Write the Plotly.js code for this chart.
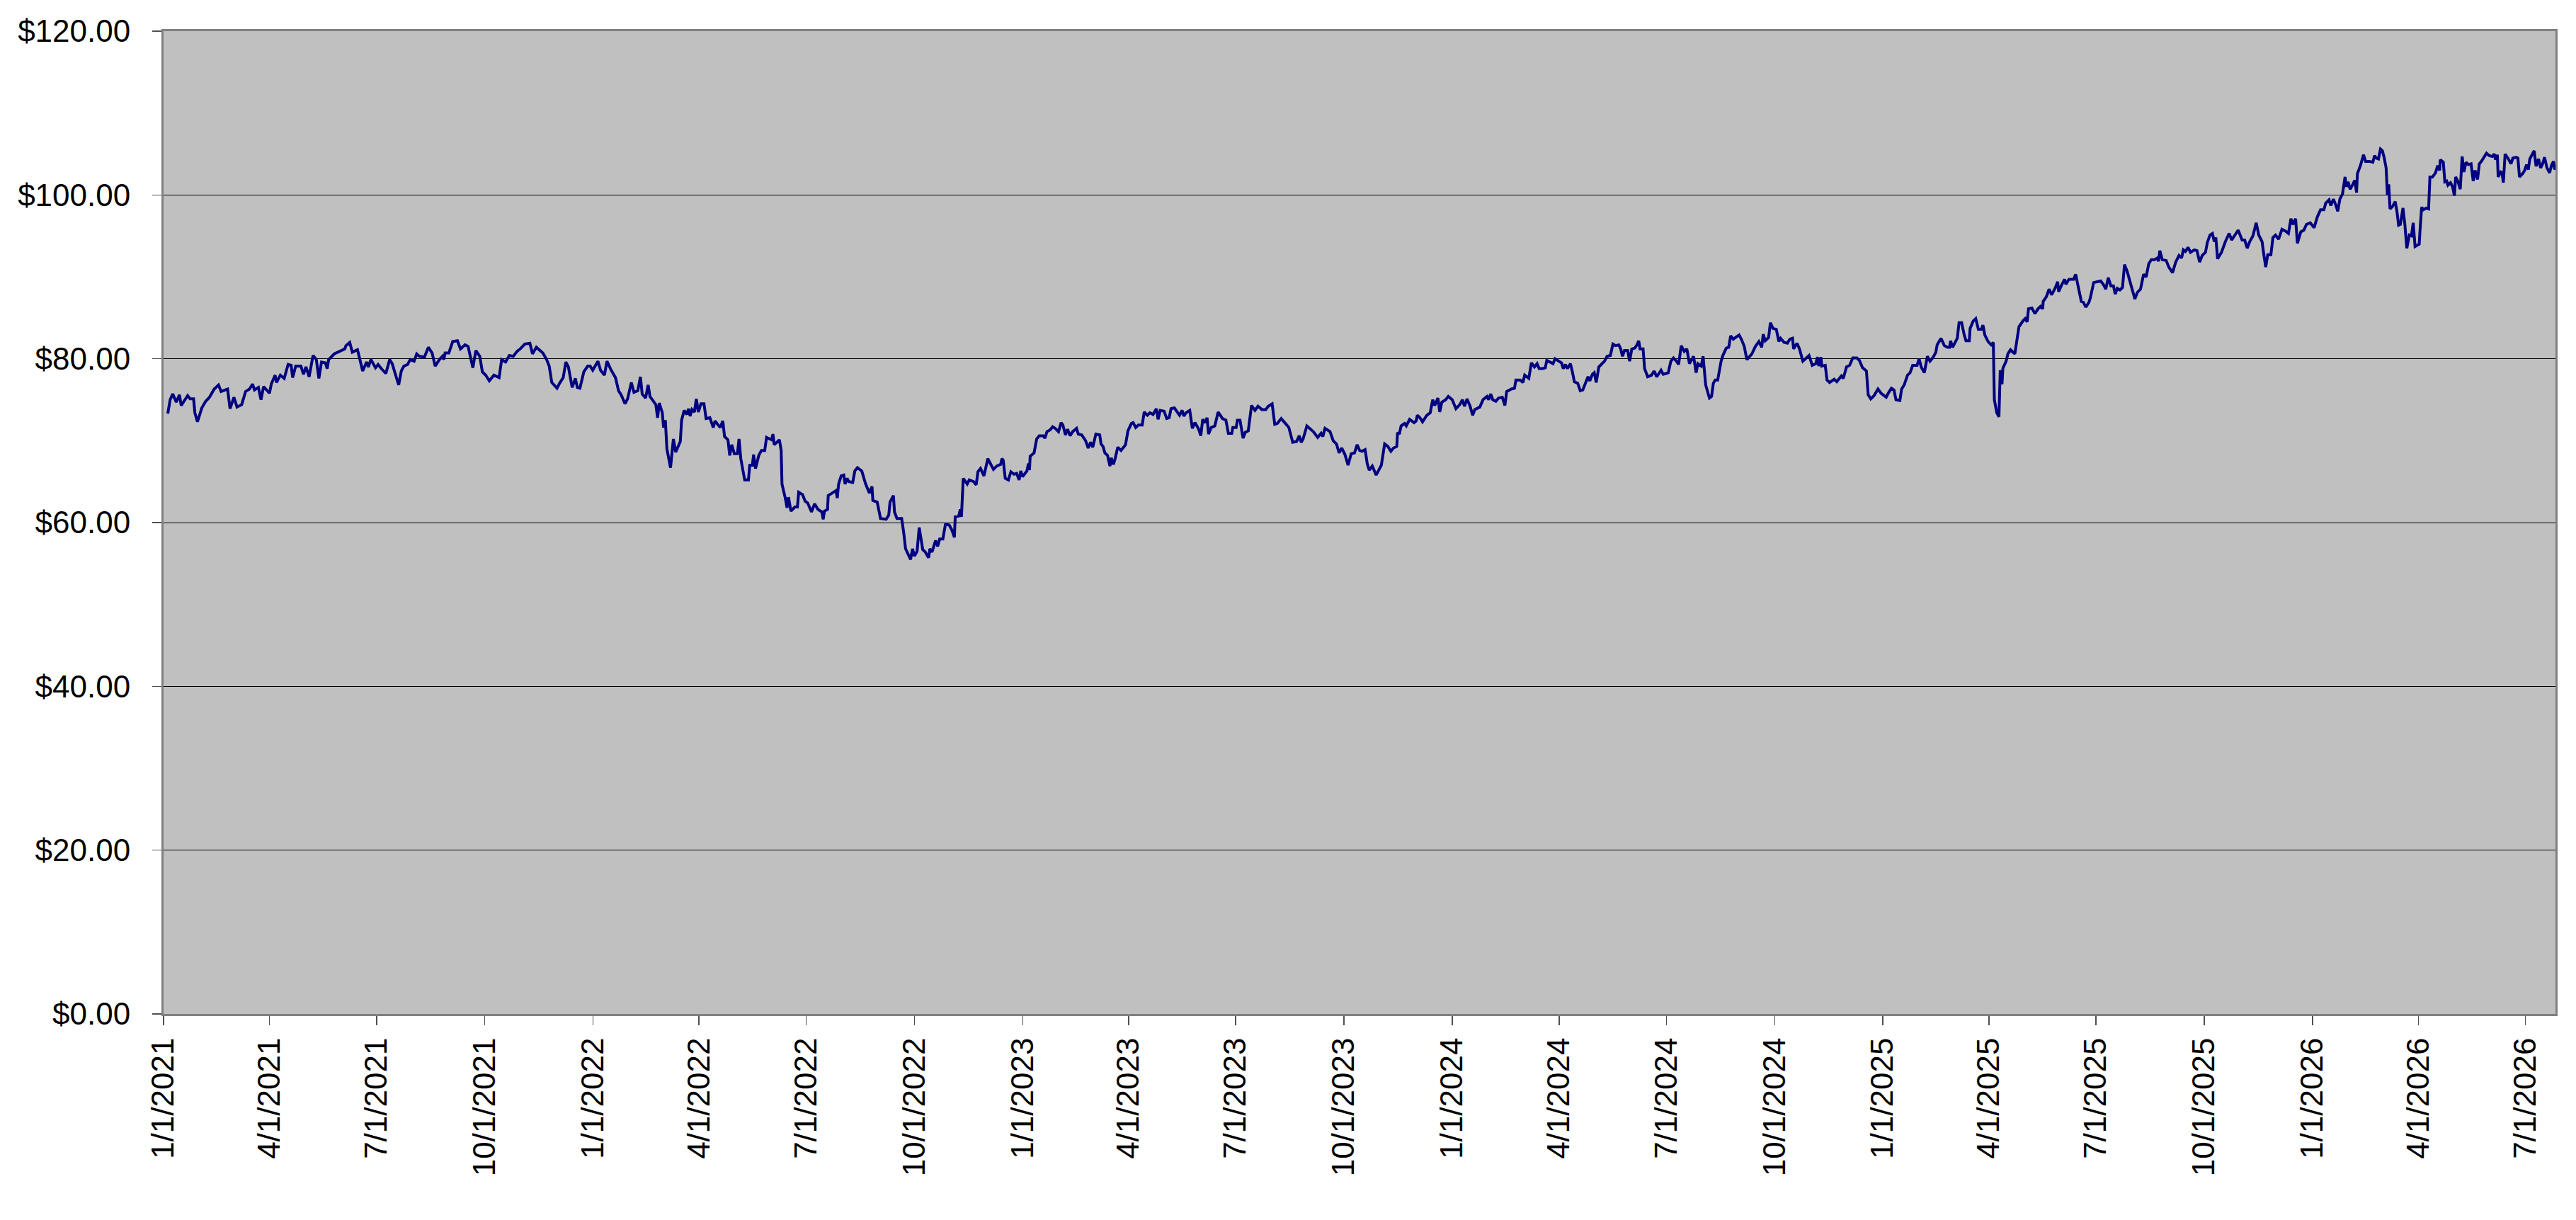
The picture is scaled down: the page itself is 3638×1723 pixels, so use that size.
<!DOCTYPE html>
<html>
<head>
<meta charset="utf-8">
<script src="https://cdn.plot.ly/plotly-3.0.1.min.js"></script>
<style>
  html, body { margin: 0; padding: 0; background: #fff; }
  #chart { width: 3638px; height: 1723px; }
</style>
</head>
<body>
<div id="chart"></div>
<script>
// days counted from 1/1/2021
const startDate = Date.UTC(2021, 0, 1);
const lastDay = 2032.5;

const dayOffsets = [
  3.6, 5.6, 7.8, 10.8, 13.5, 15, 20.5, 22.6, 25.5, 26.6, 28.8, 32.5, 35.8, 39, 43, 46.7, 48.9, 54.4, 56.5, 59.8,
  62.4, 66.4, 69.7, 73, 75.6, 77.3, 80.6, 82.8, 85, 90, 91.5, 94.8, 95.9, 99.2, 102.5, 105.8, 108.4, 109.7, 112.3, 116.7,
  118.9, 121, 123.7, 127, 129.8, 132, 134.2, 137.5, 139, 140.3, 145.1, 149.5, 154, 155, 158.2, 160.4, 164.8, 169.2, 172.5, 174,
  176.2, 180.1, 182.3, 185, 188.9, 192.1, 194.3, 197.2, 199.8, 202, 204.2, 207.4, 209.6, 212.9, 215.1, 217.3, 221.7, 225, 228.2, 230.8,
  234.4, 237, 238.1, 239.2, 242.4, 245.7, 249.7, 252.3, 256.2, 258.8, 262.8, 265.4, 268.7, 270.9, 273.7, 276.8, 280.7, 285.1, 287.3, 290.6,
  293.8, 297.1, 300.4, 303, 307, 311.3, 313.5, 316.8, 322.3, 325.5, 327.7, 329.9, 334.3, 336.5,
  339.6, 341.8, 344, 347.2, 349.9, 351.6, 353.8, 357.1, 360.4, 362.5, 364.7, 369.1, 371.3, 374.6, 376.8, 380, 384, 386.6, 388.8, 392.1,
  394.3, 397.5, 399.7, 403, 405.2, 406.7, 409.6, 411.8, 413.3, 418.3, 419.8, 421.2, 423.8, 424.9, 426.4, 427.7, 430.8, 433.2, 435.2, 439.1,
  440.2, 442.4, 444.6, 446.1, 447.4, 449, 451.1, 452.7, 454.4, 456.6, 459.2, 461, 464.2, 467.1, 468.6, 473, 475.2, 476.7, 479.6, 481.1,
  482.8, 485, 487.6, 489, 490.5, 493.8, 497, 498.1, 500.3, 501.4, 503, 505.8, 508, 510.8, 512.4, 516.7, 517.8, 518.9, 523.3, 524.8,
  525.5, 528.3, 529.8, 531, 533.1, 536.4, 538.6, 539.7, 543, 545.2, 547.3, 550.6, 553.2, 556.1, 559.4, 560.5, 561.6, 564.2, 564.8, 568.1,
  571.4, 572.5, 573.6, 575.8, 578, 579.1, 580.8, 582.3, 585.6, 587.4, 589.6, 593.3, 596.6, 599.8, 602, 602.7, 606.4, 609.2, 614, 616.2,
  617.3, 620.2, 621.1, 623.2, 627.2, 628.9, 630.5, 634.8, 636.4, 638.1, 640.3, 642.1, 645.1, 647.3, 650.1, 651.2, 653, 656, 657.8, 659.5,
  662.2, 664.4, 667.6, 669.8, 672, 672.7, 675.7, 677, 678, 679.5,
  682.9, 684.6, 688.3, 690.5, 692, 694.2, 697.1, 700.4, 702.5, 705.2, 708, 711.3, 712.4, 713.5, 715.2, 717.9, 720, 722.7, 724.9, 727,
  728.4, 729.9, 733.6, 734.9, 735.8, 736.4, 739.7, 741.9, 744.1, 747.4, 748.9, 750.7, 753.3, 755.5, 757.7, 760.5, 762.7, 764.2, 766.4, 768.2,
  770.3, 772.5, 775.8, 777.3, 780.2, 783.5, 785.7, 787.8, 789.6, 792.2, 795.5, 796.6, 798.3, 799.9, 802.1, 804.2, 805.3, 807.1, 808.6, 810.8,
  813.6, 817.4, 819.5, 822.4, 823.9, 826.1, 828.3, 831.6, 833.3, 836, 838.1, 840.8, 843.6, 845.1, 846.9, 850.2, 852.4, 854.5, 856.1, 858.9,
  863.3, 865.5, 867, 868.8, 872, 874.2, 876.4, 879.3, 881.4, 883, 885.2, 886.7, 888, 890.2, 893.3, 896.1, 899.8, 902.7, 904.8, 907.7,
  908.6, 911.4, 912.5, 914.7, 917.3, 919.1, 921.7, 924.5, 927.4, 930, 933.3, 936.6, 938.7, 942, 944.2, 946.4, 949.7, 952.3, 954.5, 956.2,
  959.5, 962.8, 965, 966.7, 968.3, 971.5, 974.2, 977, 980.7, 983.6, 985.1, 986.9, 991.2, 993.9, 996.7, 998.9, 1001.1, 1003.9, 1006.5, 1009.2,
  1012, 1014.2, 1016.4,
  1018.4, 1021, 1022.8, 1024.5, 1027.1, 1030.4, 1034.8, 1037.6, 1040.3, 1042.9, 1045.1, 1047.9, 1048.6, 1050.1, 1051.6, 1054.5, 1056, 1058.8, 1062.6, 1064.3,
  1065.4, 1067.6, 1069.8, 1073.5, 1076.3, 1078.5, 1080.1, 1082.9, 1084.4, 1086.2, 1089.5, 1091.7, 1095, 1098.2, 1101.5, 1103.7, 1105.4, 1107.6, 1110.2, 1112.4,
  1114.2, 1118.5, 1121.2, 1124.5, 1126, 1127.7, 1129.5, 1132.1, 1134.3, 1137.6, 1139.8, 1141.3, 1145.2, 1147.9, 1149.2, 1152.9, 1155.1, 1156.6, 1160.1, 1162.3,
  1164.9, 1167.1, 1168.9, 1171.9, 1174.1, 1175.4, 1178.1, 1180.7, 1182.4, 1185.7, 1187.9, 1189.4, 1191.2, 1192.9, 1195.5, 1197.3, 1198.8, 1201.7, 1203.8, 1206,
  1209.1, 1210.4, 1211.9, 1214.1, 1215.7, 1217.4, 1219.6, 1222.2, 1224.4, 1226.6, 1229.4, 1231.6, 1233.8, 1236.6, 1238.2, 1239.7, 1241.4, 1244.1, 1245.8, 1247.6,
  1250.2, 1252, 1253.5, 1254.6, 1257.2, 1258.5, 1261.1, 1264.4, 1266.6, 1268.8, 1271, 1272.5, 1274.3, 1278.6, 1280.8, 1283, 1285.6, 1287.4, 1289.6, 1292.2,
  1294.4, 1296.6, 1300.1, 1302.3, 1303.8, 1306.6, 1308.2, 1310.4, 1313.6, 1315.4, 1316.9, 1318.5, 1320.6, 1321.9, 1323.5, 1325, 1327.9, 1330, 1331.6, 1333.8,
  1336.6, 1338.8, 1341, 1343.2, 1345.4, 1347.5, 1349.7, 1352.6, 1355.6,
  1358, 1359.3, 1361, 1363.9, 1365.4, 1367.6, 1370.4, 1372.6, 1374.1, 1377, 1379.8, 1382, 1384.2, 1385.1, 1388, 1390.1, 1393, 1395.6, 1398.2, 1401,
  1403.9, 1405.4, 1406.5, 1408.3, 1409.1, 1412, 1413.5, 1415.7, 1419.6, 1421.8, 1425.7, 1427.3, 1430.1, 1432.7, 1435.4, 1438.9, 1441, 1443.7, 1447, 1448.5,
  1450.7, 1453.5, 1456.8, 1459.4, 1461.6, 1463.8, 1466, 1468.2, 1470.4, 1472.1, 1475.4, 1476.9, 1479.1, 1481.9, 1484.1, 1486.3, 1490, 1491.8, 1493.5, 1496.2,
  1498.8, 1501, 1503.8, 1506, 1507.1, 1510.4, 1513.2, 1515.8, 1517.6, 1518.5, 1520.2, 1524.2, 1525.7, 1527.9, 1530.1, 1531.6, 1534.4, 1535.1, 1537.7, 1539.9,
  1542.1, 1544.7, 1546, 1547.6, 1550.4, 1553, 1554.8, 1555.7, 1557.8, 1559.6, 1560.7, 1562.2, 1562.9, 1565.7, 1567.2, 1569.4, 1573.1, 1574.9, 1576.6, 1580.4,
  1581.9, 1583.6, 1584.7, 1587.6, 1590.2, 1592.8, 1595, 1596.8, 1597.2, 1600, 1602.2, 1604.4, 1607.3, 1609.5, 1610.3, 1613.2, 1615.4, 1616.5, 1619.1, 1623,
  1624.8, 1627.4, 1629.6, 1631.3, 1633.5, 1636.1, 1637.2, 1640.1, 1643.1, 1646, 1648.2, 1650.4, 1652.5, 1654.7, 1656.9, 1658.4, 1660.2, 1662.4, 1664.6, 1666.3,
  1668.5, 1671.1, 1673.3, 1675.1, 1677.2, 1679.9, 1682.5, 1684.7, 1686.9, 1689.1, 1691.9, 1694.1, 1695.2, 1696.3,
  1698.4, 1701.7, 1703.9, 1707.1, 1709.8, 1712.6, 1714.8, 1716.3, 1718.1, 1720.3, 1722.4, 1725.7, 1727.9, 1730.1, 1732.3, 1735.1, 1736.7, 1738.9, 1741, 1742.6,
  1743.9, 1745.4, 1748.7, 1752, 1755.2, 1757.4, 1760.1, 1762.9, 1766.2, 1768.4, 1770.6, 1772.7, 1775.4, 1778.2, 1780.4, 1783.2, 1784.8, 1786.3, 1788, 1790.7,
  1792.4, 1794.6, 1797.2, 1800.1, 1802.9, 1805.6, 1807.7, 1809.5, 1811.7, 1813.2, 1816.1, 1818.7, 1820.9, 1824.1, 1827.4, 1830.1, 1832.9, 1835.7, 1837.3, 1840.1,
  1841.6, 1843.8, 1846, 1847.5, 1849.3, 1851.5, 1853.7, 1854.8, 1856.3, 1858, 1860.7, 1862, 1863.5, 1864.2, 1866.8, 1869.4, 1871.2, 1874.4, 1877.3, 1878.8,
  1880.3, 1882.1, 1883.8, 1885.4, 1886.9, 1888.6, 1889.7, 1890.8, 1891.9, 1894.1, 1896.3, 1897.8, 1899.2, 1900.7, 1902.9, 1904.4, 1906.2, 1908.3, 1910.1, 1911.6,
  1913.2, 1916.7, 1917.5, 1918.8, 1920.4, 1922.6, 1924.7, 1925.8, 1928, 1930.6, 1932.4, 1934.1, 1934.6, 1937.2, 1938.5, 1940.1, 1941.1, 1943.3, 1945.1, 1946.6,
  1947.7, 1949.5, 1951.6, 1953.2, 1954.7, 1956.5, 1958.6, 1960.8, 1962.6, 1964.1, 1966.3, 1967.8, 1969.6, 1971.8, 1973.9, 1976.1, 1978.8, 1980.5, 1981.6, 1983.1,
  1983.8, 1986, 1987.1, 1988.2, 1989.7, 1992.5, 1994.7, 1996.3, 1999.1, 2000.6, 2001.9, 2004.6, 2006.3, 2007.9, 2009.4, 2010.7, 2012.9, 2014.4, 2016, 2018.1,
  2019.9, 2021.6, 2023.2, 2025.3, 2027.5, 2029.1, 2030.8, 2031.9, 2032.5
];

const prices = [
  73.3, 75.0, 75.7, 74.7, 75.6, 74.3, 75.5, 75.1, 75.1, 73.4, 72.3, 74.0, 74.8, 75.3, 76.3, 76.8, 76.0, 76.3, 73.9, 75.3,
  74.1, 74.4, 76.0, 76.3, 76.9, 76.2, 76.5, 75.0, 76.6, 75.8, 76.9, 78.0, 77.1, 78.0, 77.6, 79.3, 79.2, 77.7, 79.1, 79.1,
  78.1, 79.0, 77.8, 80.4, 79.9, 77.6, 79.6, 79.5, 78.8, 79.9, 80.6, 80.9, 81.2, 81.6, 82.0, 80.8, 81.1, 78.5, 79.6, 79.0,
  79.9, 78.9, 79.3, 78.8, 78.2, 79.9, 79.4, 78.0, 76.8, 78.5, 79.1, 79.3, 79.9, 79.7, 80.6, 80.3, 80.2, 81.4, 80.7, 79.1,
  79.9, 80.3, 79.9, 80.7, 80.7, 82.1, 82.2, 81.2, 81.7, 81.5, 78.9, 81.0, 80.3, 78.4, 78.0, 77.3, 78.0, 77.7, 79.9, 79.6,
  80.4, 80.3, 80.9, 81.2, 81.8, 81.9, 80.6, 81.4, 80.7, 79.9, 79.1, 77.1, 76.4, 77.0,
  77.7, 79.6, 79.0, 76.5, 77.6, 76.5, 76.4, 78.4, 79.1, 79.1, 78.6, 79.7, 78.6, 78.0, 79.7, 78.7, 77.7, 76.1, 75.6, 74.5,
  75.1, 77.1, 75.9, 76.1, 77.8, 75.7, 75.2, 76.8, 75.4, 74.4, 72.8, 74.6, 73.4, 71.6, 72.5, 69.0, 66.7, 70.2, 68.6, 69.9,
  72.5, 73.7, 73.2, 73.9, 73.0, 73.8, 73.5, 75.1, 73.5, 74.5, 74.5, 72.7, 72.8, 71.6, 72.4, 71.6, 72.4, 70.5, 70.1, 68.2,
  69.5, 68.4, 68.4, 70.2, 67.8, 65.2, 65.2, 67.0, 67.0, 68.3, 66.6, 68.2, 68.8, 68.8, 70.4, 70.1, 70.8, 69.5, 70.1, 68.8,
  64.7, 63.0, 61.8, 63.1, 61.4, 61.9, 61.9, 63.7, 63.4, 62.6, 62.4, 61.3, 62.3, 61.6, 61.3, 60.4, 61.4, 61.6, 63.3, 63.6,
  63.9, 63.0, 64.7, 65.7, 65.8, 64.7, 65.4, 65.0, 64.9, 66.3, 66.7, 66.3, 64.7, 63.6, 64.4, 62.7, 62.5, 60.5, 60.4, 60.9,
  62.5, 63.3, 61.3, 60.5, 60.5, 58.8, 56.8, 55.5, 56.8, 55.9, 56.5, 59.4, 56.7, 56.4, 55.7, 56.8, 56.4, 57.8, 57.1, 58.0,
  58.0, 59.8, 59.7, 59.1, 58.2, 60.7, 60.8, 61.6, 60.7, 65.4,
  64.7, 65.2, 65.0, 64.6, 66.2, 66.6, 65.7, 67.8, 67.3, 66.5, 66.9, 67.1, 67.8, 67.6, 65.4, 65.2, 66.2, 65.9, 66.0, 65.2,
  66.3, 65.6, 66.3, 67.2, 66.4, 68.1, 68.5, 70.2, 70.6, 70.6, 70.3, 71.1, 71.3, 71.7, 71.5, 71.1, 72.2, 71.9, 70.7, 71.4,
  70.6, 71.1, 71.5, 70.8, 70.7, 70.0, 69.1, 69.8, 69.2, 70.8, 70.7, 69.6, 69.3, 68.5, 68.2, 66.9, 67.9, 67.1, 67.8, 69.2,
  68.8, 69.5, 71.2, 72.1, 72.2, 71.6, 71.9, 71.9, 73.5, 73.1, 73.4, 73.2, 73.9, 72.6, 73.7, 73.6, 72.7, 72.8, 73.9, 74.0,
  73.1, 73.7, 73.0, 73.4, 73.7, 71.5, 72.2, 71.5, 70.6, 72.6, 72.2, 72.8, 70.8, 71.6, 71.8, 73.5, 72.7, 72.5, 70.9, 70.9,
  71.6, 71.6, 72.5, 72.5, 70.3, 71.0, 71.2, 74.3, 73.7, 74.2, 73.8, 73.8, 74.2, 74.5, 72.0, 72.1, 72.7, 72.2, 71.9, 71.6,
  69.8, 69.9, 70.6, 69.8, 70.2, 71.8, 71.5, 71.1, 70.4, 70.9, 70.5, 71.5, 71.1, 70.0, 69.6, 68.5, 69.1, 68.3, 67.0, 68.4,
  68.5, 69.5, 68.8,
  68.7, 68.9, 67.2, 66.4, 66.9, 65.8, 67.0, 69.6, 69.3, 68.7, 69.1, 69.3, 71.0, 70.8, 71.8, 72.1, 71.8, 72.6, 72.2, 72.4,
  73.1, 72.8, 72.3, 73.1, 73.4, 75.0, 74.3, 75.2, 73.5, 74.7, 75.0, 75.4, 75.0, 73.9, 74.4, 75.0, 74.2, 75.1, 74.2, 73.1,
  73.8, 74.1, 75.0, 75.4, 75.0, 75.7, 75.0, 74.8, 75.2, 75.3, 74.3, 76.0, 76.3, 76.4, 77.4, 77.4, 77.1, 78.0, 77.6, 79.5,
  79.0, 79.4, 78.8, 78.8, 78.9, 79.8, 79.6, 79.4, 80.0, 79.7, 79.5, 78.8, 79.3, 78.8, 79.4, 78.3, 77.2, 77.0, 76.1, 76.2,
  77.3, 77.8, 77.3, 78.1, 78.3, 77.1, 79.0, 79.4, 79.7, 80.3, 80.4, 81.8, 81.6, 81.7, 81.2, 80.3, 81.0, 81.0, 79.7, 81.2,
  81.3, 81.7, 82.2, 81.2, 81.2, 78.8, 77.8, 78.0, 78.5, 77.8, 78.3, 78.6, 78.1, 78.3, 79.7, 80.1, 79.7, 79.3, 81.6, 80.9,
  81.2, 79.4, 80.3, 78.3, 79.4, 79.1, 80.3, 76.8, 75.2, 75.4, 77.0, 77.4, 77.4, 78.7, 79.7, 80.4, 81.3, 81.4, 82.8, 82.4,
  82.7, 82.9, 82.3, 81.5, 79.9, 80.3, 80.6, 81.5, 82.1,
  81.4, 83.0, 82.2, 82.6, 84.4, 83.7, 83.6, 82.1, 82.5, 82.0, 81.9, 82.4, 82.5, 81.2, 81.9, 81.2, 79.7, 80.1, 80.4, 79.2,
  79.4, 80.2, 79.1, 80.2, 79.1, 79.2, 77.4, 77.1, 77.5, 77.2, 77.9, 77.6, 79.0, 79.2, 80.1, 80.1, 79.8, 78.9, 78.5, 75.6,
  75.1, 75.5, 76.3, 75.8, 75.5, 75.3, 75.9, 76.4, 76.2, 75.0, 74.9, 76.3, 76.8, 78.0, 78.3, 79.2, 79.2, 80.0, 79.0, 78.3,
  80.3, 79.7, 80.2, 80.8, 81.7, 82.5, 81.6, 81.4, 81.4, 82.2, 81.4, 82.5, 84.4, 84.4, 82.9, 82.2, 82.2, 83.7, 84.6, 84.9,
  83.6, 83.6, 84.1, 82.9, 82.1, 81.7, 82.0, 75.0, 73.4, 72.9, 78.6, 76.9, 78.8, 79.7, 80.6, 81.1, 80.6, 82.4, 83.9, 84.7,
  84.9, 84.5, 86.1, 86.2, 85.5, 86.1, 86.4, 86.1, 87.0, 87.6, 88.5, 87.8, 88.6, 89.4, 88.2, 89.1, 89.7, 89.1, 89.7, 89.7,
  90.3, 88.5, 87.0, 86.9, 86.3, 86.9, 87.4, 89.3, 89.4, 89.5, 89.1, 88.5, 89.9, 88.9, 88.9, 87.9, 88.6, 88.4, 88.7, 91.5,
  90.7, 89.4, 88.2, 87.3, 88.1, 88.5, 90.3, 90.0, 91.6, 92.1, 92.1, 92.3, 91.9, 93.2,
  92.1, 92.0, 91.2, 90.5, 91.8, 92.6, 92.3, 93.3, 93.1, 93.6, 93.0, 93.3, 93.2, 91.8, 92.6, 93.0, 94.2, 95.1, 95.3, 94.3,
  94.8, 92.2, 93.0, 94.3, 95.3, 94.5, 95.1, 95.7, 94.5, 94.5, 93.5, 94.3, 95.0, 96.6, 95.1, 94.3, 92.6, 91.2, 92.7, 92.7,
  94.8, 95.1, 94.6, 95.8, 95.6, 95.3, 97.1, 96.4, 97.1, 94.1, 95.5, 95.7, 96.4, 96.6, 96.0, 97.3, 98.2, 98.2, 99.0, 99.4,
  98.7, 99.5, 98.7, 98.0, 99.5, 100.1, 102.2, 101.0, 101.6, 100.7, 101.4, 101.8, 100.3, 102.6, 103.6, 104.9, 104.1, 104.1, 104.0, 104.8,
  104.5, 104.4, 105.6, 105.4, 104.6, 103.3, 100.0, 101.3, 98.3, 98.6, 99.2, 98.0, 96.3, 96.4, 98.4, 96.6, 93.5, 95.1, 95.0, 96.6,
  93.7, 94.0, 95.9, 98.5, 98.2, 98.4, 98.3, 102.2, 102.2, 102.7, 103.6, 103.0, 104.3, 104.0, 101.6, 101.7, 101.2, 101.5, 101.0, 99.9,
  102.2, 101.7, 100.7, 104.7, 102.8, 104.0, 103.7, 103.8, 101.7, 103.0, 101.9, 103.8, 104.1, 104.7, 105.1, 104.8, 104.7, 105.0, 104.3, 104.9,
  102.2, 102.8, 102.7, 101.5, 105.0, 104.4, 103.8, 104.5, 104.6, 104.5, 102.2, 102.6, 103.0, 103.7, 103.1, 104.4, 105.1, 105.4, 103.5, 104.4,
  103.3, 103.8, 104.6, 103.3, 102.7, 103.6, 104.1, 103.1, 103.4
];

const DAY_MS = 86400000;
const dates = dayOffsets.map(d => startDate + d * DAY_MS);

const data = [
  {
    x: dates,
    y: prices,
    type: 'scatter',
    mode: 'lines',
    line: { color: '#000080', width: 4 },
    hoverinfo: 'skip',
  },
];

const layout = {
  width: 3638,
  height: 1723,
  margin: { l: 231, r: 29, t: 44, b: 291 },
  paper_bgcolor: '#ffffff',
  plot_bgcolor: '#c0c0c0',
  showlegend: false,
  font: { family: 'Liberation Sans, Arial, sans-serif', size: 44, color: '#000000' },
  xaxis: {
    type: 'date',
    range: [startDate, startDate + lastDay * DAY_MS],
    tick0: '2021-01-01',
    dtick: 'M3',
    tickformat: '%-m/%-d/%Y',
    tickangle: -90,
    ticks: 'outside',
    ticklen: 13,
    tickwidth: 1.5,
    tickcolor: '#505050',
    showgrid: false,
    zeroline: false,
    showline: true,
    mirror: true,
    linecolor: '#808080',
    linewidth: 3,
    tickfont: { size: 44, color: '#000000' },
  },
  yaxis: {
    range: [0, 120],
    dtick: 20,
    tickprefix: '$',
    tickformat: '.2f',
    ticks: 'outside',
    ticklen: 13,
    tickwidth: 1.5,
    tickcolor: '#505050',
    ticklabelstandoff: 22,
    showgrid: true,
    gridcolor: '#000000',
    gridwidth: 1,
    zeroline: false,
    showline: true,
    mirror: true,
    linecolor: '#808080',
    linewidth: 3,
    tickfont: { size: 44, color: '#000000' },
  },
};

Plotly.newPlot('chart', data, layout, { displayModeBar: false, staticPlot: true });
</script>
</body>
</html>
